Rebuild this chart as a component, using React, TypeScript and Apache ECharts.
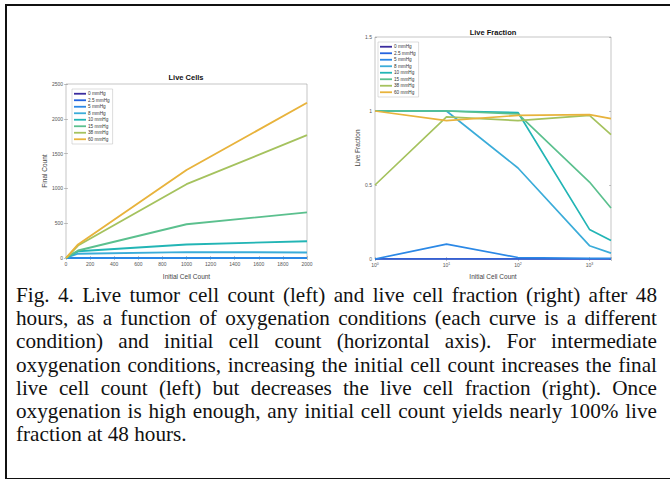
import React, { useEffect, useRef } from "react";
import * as echarts from "echarts";

// ---- data ----
const initialCounts = [1, 10, 100, 1000, 2000];
const conditions = ["0 mmHg", "2.5 mmHg", "5 mmHg", "8 mmHg", "10 mmHg", "15 mmHg", "38 mmHg", "60 mmHg"];

// Live cell final counts (left panel), one array per condition
const cells0 = [0, 0, 0, 0, 0];
const cells2_5 = [0, 0, 0, 0, 0];
const cells5 = [0, 1, 1, 1, 1];
const cells8 = [1, 10, 62, 85, 80];
const cells10 = [1, 12, 96, 195, 240];
const cells15 = [1, 13, 108, 485, 655];
const cells38 = [1, 16, 180, 1060, 1765];
const cells60 = [1, 18, 195, 1265, 2230];
const liveCells = [cells0, cells2_5, cells5, cells8, cells10, cells15, cells38, cells60];

// Live fraction (right panel)
const frac0 = [0, 0, 0, 0, 0];
const frac2_5 = [0, 0, 0, 0, 0];
const frac5 = [0, 0.1, 0.01, 0.005, 0.005];
const frac8 = [1, 1, 0.615, 0.09, 0.04];
const frac10 = [1, 1, 0.99, 0.2, 0.125];
const frac15 = [1, 1, 0.98, 0.52, 0.345];
const frac38 = [0.5, 0.96, 0.935, 0.97, 0.84];
const frac60 = [1, 0.935, 0.97, 0.975, 0.948];
const liveFraction = [frac0, frac2_5, frac5, frac8, frac10, frac15, frac38, frac60];

const captionLines = [
  "Fig. 4. Live tumor cell count (left) and live cell fraction (right) after 48",
  "hours, as a function of oxygenation conditions (each curve is a different",
  "condition) and initial cell count (horizontal axis). For intermediate",
  "oxygenation conditions, increasing the initial cell count increases the final",
  "live cell count (left) but decreases the live cell fraction (right). Once",
  "oxygenation is high enough, any initial cell count yields nearly 100% live",
  "fraction at 48 hours.",
];

// ---- styles ----
const palette = ["#3b2c9e", "#2563df", "#2b88e6", "#3bacd9", "#22b5b5", "#5bc08e", "#a5c25e", "#e8b33c"];
const SANS = '"Liberation Sans", Arial, sans-serif';
const tickCol = "#8a8a8a";
const labelCol = "#555";

function plainNum(v: number) {
  return String(v);
}

function axisCommon(extra: any) {
  return {
    axisLine: { show: false },
    axisTick: { show: true, inside: true, length: 2, lineStyle: { color: tickCol, width: 0.5 } },
    axisLabel: { fontSize: 5, color: labelCol, margin: 3, fontFamily: SANS, formatter: plainNum },
    splitLine: { show: false },
    nameTextStyle: { fontSize: 6.5, color: "#444", fontFamily: SANS },
    ...extra,
  };
}

function legendCfg(left: number, top: number) {
  return {
    data: conditions,
    left,
    top,
    orient: "vertical",
    icon: "rect",
    itemWidth: 12,
    itemHeight: 1.8,
    itemGap: 1,
    padding: [2, 3, 2, 2],
    borderColor: "#bbb",
    borderWidth: 0.5,
    backgroundColor: "#fff",
    selectedMode: false,
    textStyle: { fontSize: 4.7, lineHeight: 5.5, color: "#333", fontFamily: SANS, padding: [0, 0, 0, -3] },
  };
}

function logLabel(v: number) {
  const e = Math.round(Math.log10(v));
  if (Math.abs(Math.pow(10, e) - v) > 1e-6) return "";
  return `10{sup|${e}}`;
}

export default function App() {
  const ref = useRef<HTMLDivElement>(null);

  useEffect(() => {
    if (!ref.current) return;
    const chart = echarts.init(ref.current, undefined, { renderer: "svg" });

    const series: any[] = [];
    conditions.forEach((name, i) => {
      series.push({
        type: "line",
        name,
        xAxisIndex: 0,
        yAxisIndex: 0,
        data: initialCounts.map((x, j) => [x, liveCells[i][j]]),
        symbol: "none",
        color: palette[i],
        lineStyle: { width: 1.9, color: palette[i] },
        emphasis: { disabled: true },
        silent: true,
      });
    });
    conditions.forEach((name, i) => {
      series.push({
        type: "line",
        name,
        xAxisIndex: 2,
        yAxisIndex: 2,
        data: initialCounts.map((x, j) => [x, liveFraction[i][j]]),
        symbol: "none",
        color: palette[i],
        lineStyle: { width: 1.7, color: palette[i] },
        emphasis: { disabled: true },
        silent: true,
      });
    });

    const titleStyle = { fontSize: 7.5, fontWeight: "bold", color: "#111", fontFamily: SANS };
    const option: any = {
      animation: false,
      backgroundColor: "transparent",
      title: [
        { text: "Live Cells", left: 186, top: 73, padding: 0, textAlign: "center", textStyle: titleStyle },
        { text: "Live Fraction", left: 493, top: 28, padding: 0, textAlign: "center", textStyle: titleStyle },
      ],
      legend: [legendCfg(72, 89), legendCfg(378, 42)],
      grid: [
        { left: 66, top: 84, width: 241, height: 182, show: true, borderColor: "#a0a0a0", borderWidth: 0.6, backgroundColor: "#fff" },
        { left: 375, top: 37, width: 236, height: 223, show: true, borderColor: "#a0a0a0", borderWidth: 0.6, backgroundColor: "#fff" },
      ],
      xAxis: [
        axisCommon({
          gridIndex: 0, type: "value", min: 0, max: 2000, interval: 200, position: "bottom",
          name: "Initial Cell Count", nameLocation: "middle", nameGap: 15,
        }),
        axisCommon({
          gridIndex: 0, type: "value", min: 0, max: 2000, interval: 200, position: "top",
          axisLabel: { show: false },
        }),
        axisCommon({
          gridIndex: 1, type: "log", logBase: 10, min: 1, max: 2000, position: "bottom",
          name: "Initial Cell Count", nameLocation: "middle", nameGap: 14,
          axisLabel: {
            fontSize: 5, color: labelCol, margin: 3, fontFamily: SANS,
            formatter: logLabel,
            rich: { sup: { fontSize: 3.5, color: labelCol, fontFamily: SANS, verticalAlign: "top", padding: [0, 0, 2, 0] } },
          },
        }),
        axisCommon({
          gridIndex: 1, type: "log", logBase: 10, min: 1, max: 2000, position: "top",
          axisLabel: { show: false },
        }),
      ],
      yAxis: [
        axisCommon({
          gridIndex: 0, type: "value", min: 0, max: 2500, interval: 500, position: "left",
          name: "Final Count", nameLocation: "middle", nameGap: 18,
        }),
        axisCommon({
          gridIndex: 0, type: "value", min: 0, max: 2500, interval: 500, position: "right",
          axisLabel: { show: false },
        }),
        axisCommon({
          gridIndex: 1, type: "value", min: 0, max: 1.5, interval: 0.5, position: "left",
          name: "Live Fraction", nameLocation: "middle", nameGap: 12,
        }),
        axisCommon({
          gridIndex: 1, type: "value", min: 0, max: 1.5, interval: 0.5, position: "right",
          axisLabel: { show: false },
        }),
      ],
      series,
    };

    chart.setOption(option);
    return () => chart.dispose();
  }, []);

  return (
    <div style={{ position: "absolute", left: 0, top: 0, width: 670, height: 479, overflow: "hidden", background: "#fff" }}>
      <div
        style={{
          position: "absolute", left: 5, top: 4, width: 700, height: 472,
          border: "2px solid #111", boxSizing: "content-box",
        }}
      />
      <div ref={ref} style={{ position: "absolute", left: 0, top: 0, width: 670, height: 285 }} />
      <div
        style={{
          position: "absolute", left: 16, top: 284, width: 641,
          fontFamily: '"Liberation Serif", "Times New Roman", serif', fontSize: 21.2, lineHeight: "23.2px", color: "#111",
        }}
      >
        {captionLines.map((line, i) => (
          <div
            key={i}
            style={{
              textAlign: "justify",
              textAlignLast: i < captionLines.length - 1 ? "justify" : "left",
            } as any}
          >
            {line}
          </div>
        ))}
      </div>
    </div>
  );
}
